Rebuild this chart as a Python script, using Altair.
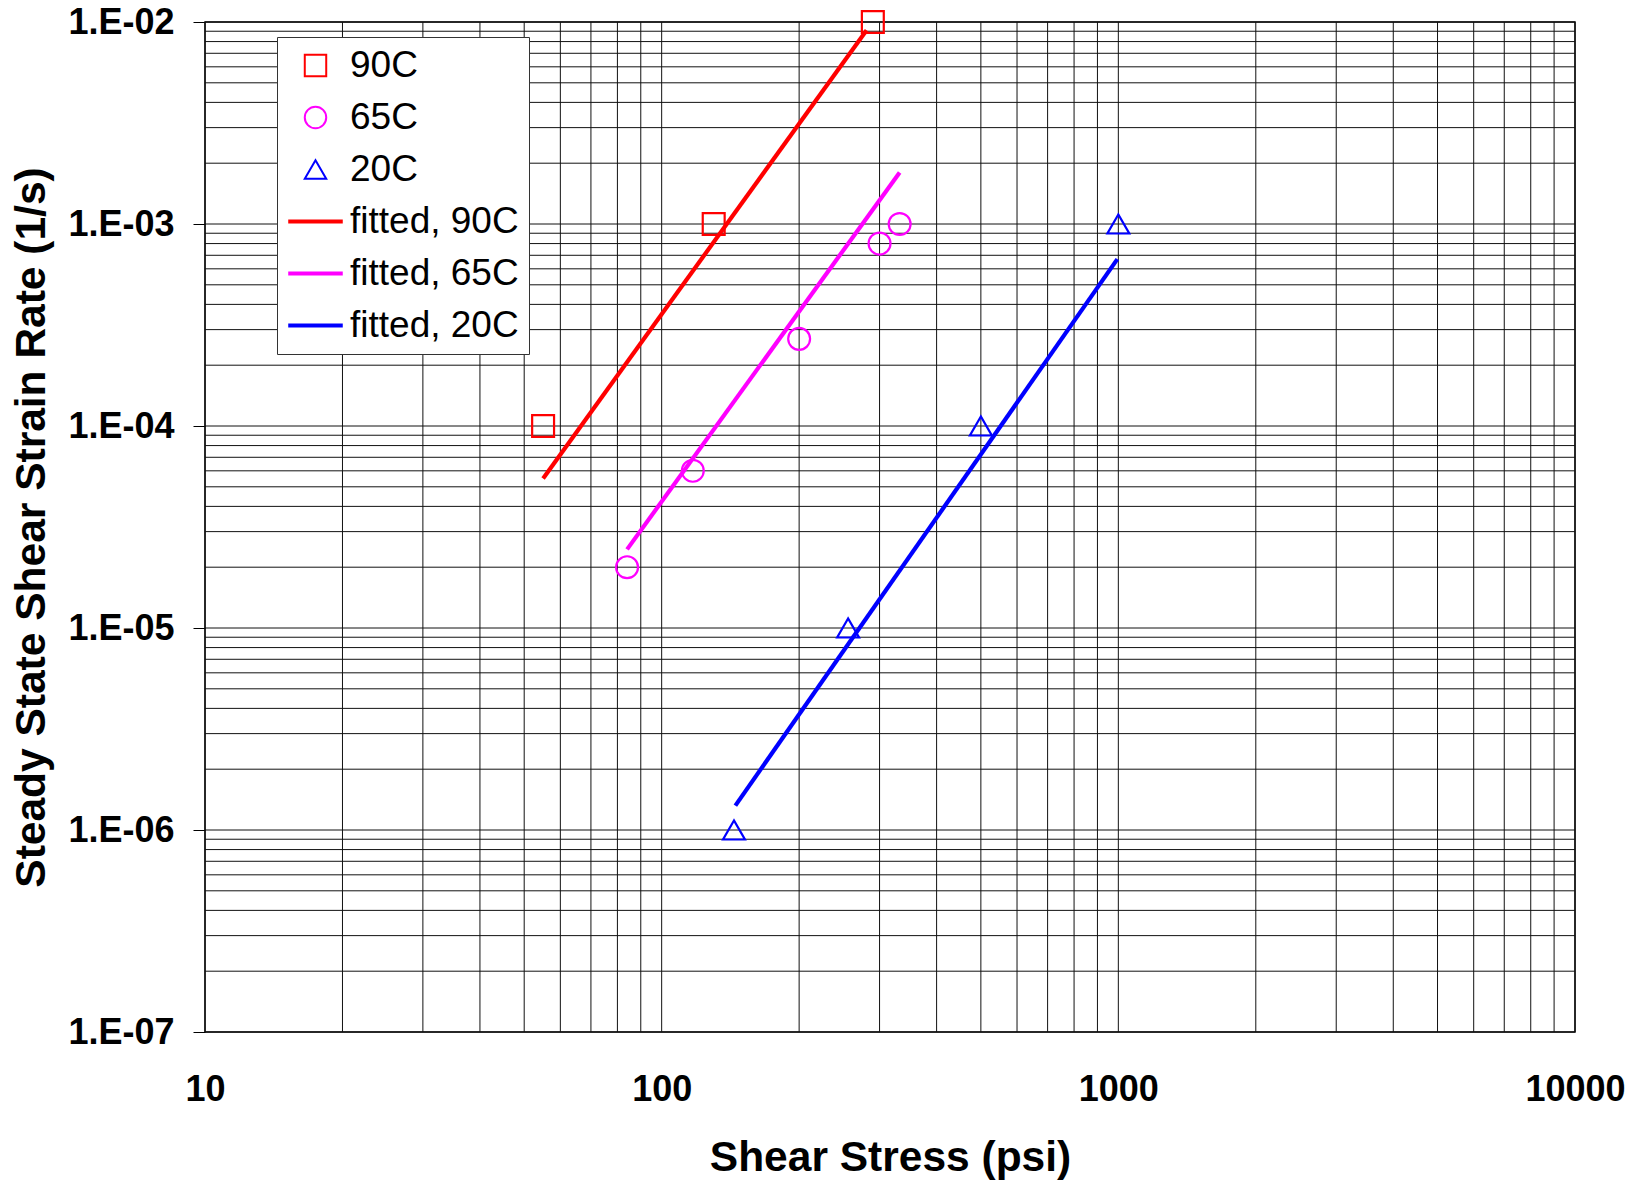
import altair as alt
import pandas as pd

# Measured steady-state creep data
series_names = ["90C", "65C", "20C"]
fit_names = ["fitted, 90C", "fitted, 65C", "fitted, 20C"]
series_colors = ["#FF0000", "#FF00FF", "#0000FF"]

stress_90 = [55, 130, 290]
rate_90 = [1e-4, 1e-3, 1e-2]
stress_65 = [84, 117, 200, 300, 332]
rate_65 = [2e-5, 6e-5, 2.7e-4, 8e-4, 1e-3]
stress_20 = [144, 256, 500, 1000]
rate_20 = [1e-6, 1e-5, 1e-4, 1e-3]

# Power-law fits (end points of each straight line on log-log axes)
fit_stress_90 = [55, 281]
fit_rate_90 = [5.5e-5, 9.1e-3]
fit_stress_65 = [84, 332]
fit_rate_65 = [2.45e-5, 1.8e-3]
fit_stress_20 = [145, 995]
fit_rate_20 = [1.32e-6, 6.7e-4]

# Log grid positions
x_grid = [m * 10 ** e for e in (1, 2, 3) for m in range(1, 10)] + [10000]
y_grid = [m * 10.0 ** e for e in (-7, -6, -5, -4, -3) for m in range(1, 10)] + [1e-2]
x_ticks = [10, 100, 1000, 10000]
y_ticks = [1e-7, 1e-6, 1e-5, 1e-4, 1e-3, 1e-2]

points = pd.DataFrame({
    "stress": stress_90 + stress_65 + stress_20,
    "rate": rate_90 + rate_65 + rate_20,
    "series": [series_names[0]] * len(stress_90)
    + [series_names[1]] * len(stress_65)
    + [series_names[2]] * len(stress_20),
})
fits = pd.DataFrame({
    "stress": fit_stress_90 + fit_stress_65 + fit_stress_20,
    "rate": fit_rate_90 + fit_rate_65 + fit_rate_20,
    "series": [fit_names[0]] * 2 + [fit_names[1]] * 2 + [fit_names[2]] * 2,
})

FONT = "Liberation Sans"
legend_order = series_names + fit_names

# legend swatch for the fitted lines: a long thin bar
LINE_SWATCH = "M-2.45,-0.09H2.45V0.09H-2.45Z"

x_scale = alt.Scale(type="log", domain=[10, 10000], nice=False)
y_scale = alt.Scale(type="log", domain=[1e-7, 1e-2], nice=False)
color_scale = alt.Scale(domain=legend_order, range=series_colors + series_colors)
shape_scale = alt.Scale(
    domain=legend_order,
    range=["square", "circle", "triangle-up", LINE_SWATCH, LINE_SWATCH, LINE_SWATCH],
)

x_axis = alt.Axis(
    title="Shear Stress (psi)", values=x_ticks, format="d", ticks=False, tickSize=0,
    labelPadding=40, titlePadding=29, labelFlush=False, labelOverlap=False,
)
y_axis = alt.Axis(
    title="Steady State Shear Strain Rate (1/s)", values=y_ticks,
    labelExpr="'1.E-' + format(-round(log(datum.value) / LN10), '02d')",
    tickSize=12, labelPadding=19, titlePadding=14, labelFlush=False, labelOverlap=False,
)

legend = alt.Legend(
    title=None, orient="none", legendX=72, legendY=15, direction="vertical",
    symbolSize=460, symbolStrokeWidth=2, symbolFillColor="transparent", symbolOffset=10,
    labelFont=FONT, labelFontSize=37, labelColor="black", labelOffset=16, labelLimit=500,
    padding=10, rowPadding=14, strokeColor="#333333", fillColor="white",
)

grid_x = alt.Chart(pd.DataFrame({"v": x_grid})).mark_rule(
    color="#111111", strokeWidth=1
).encode(x=alt.X("v:Q", scale=x_scale, axis=x_axis))

grid_y = alt.Chart(pd.DataFrame({"v": y_grid})).mark_rule(
    color="#111111", strokeWidth=1
).encode(y=alt.Y("v:Q", scale=y_scale, axis=y_axis))

markers = alt.Chart(points).mark_point(filled=False, size=480, strokeWidth=2.2, opacity=1).encode(
    x=alt.X("stress:Q", scale=x_scale, axis=x_axis),
    y=alt.Y("rate:Q", scale=y_scale, axis=y_axis),
    color=alt.Color("series:N", scale=color_scale, legend=legend),
    shape=alt.Shape("series:N", scale=shape_scale, legend=legend),
)

fit_lines = alt.Chart(fits).mark_line(strokeWidth=4.2).encode(
    x=alt.X("stress:Q", scale=x_scale, axis=x_axis),
    y=alt.Y("rate:Q", scale=y_scale, axis=y_axis),
    color=alt.Color("series:N", scale=color_scale, legend=None),
    detail="series:N",
)

chart = alt.layer(grid_x, grid_y, markers, fit_lines).properties(
    width=1370, height=1010, autosize="none",
    padding={"left": 205, "top": 22, "right": 60, "bottom": 151},
    background="white",
).configure_view(
    stroke="black", strokeWidth=1.5
).configure_axis(
    labelFont=FONT, labelFontWeight="bold", labelFontSize=36, labelColor="black",
    titleFont=FONT, titleFontWeight="bold", titleFontSize=42.5, titleColor="black",
    grid=False, domain=False, tickColor="black", tickWidth=1,
)

chart.save("out.html", embed_options={"renderer": "svg", "actions": False})
